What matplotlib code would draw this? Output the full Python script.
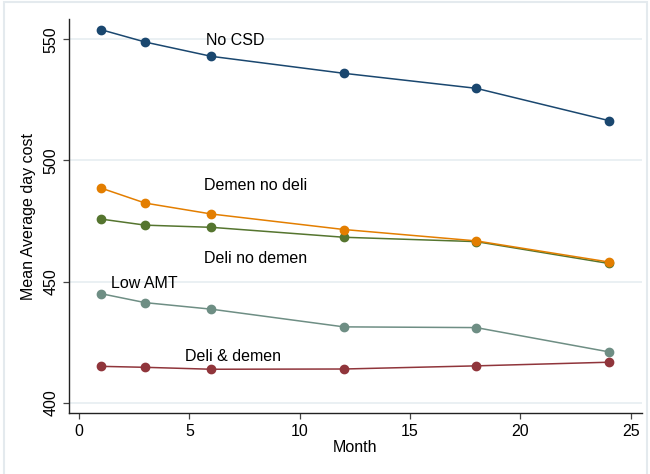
import matplotlib
matplotlib.use("Agg")
import matplotlib.pyplot as plt
from matplotlib.patches import Rectangle

plt.rcParams['font.family'] = ['Liberation Sans', 'DejaVu Sans']

months = [1, 3, 6, 12, 18, 24]
no_csd = [554.0, 548.9, 543.0, 536.0, 529.8, 516.5]
demen_no_deli = [488.6, 482.4, 477.9, 471.5, 466.8, 458.1]
deli_no_demen = [475.8, 473.3, 472.4, 468.3, 466.5, 457.5]
low_amt = [445.0, 441.3, 438.6, 431.3, 431.0, 421.0]
deli_demen = [415.0, 414.6, 413.8, 413.9, 415.2, 416.7]

# drawn in this order (orange ends up on top of green where they meet)
series = [
    (no_csd, '#1a476f'),
    (deli_no_demen, '#55752f'),
    (demen_no_deli, '#e37e00'),
    (low_amt, '#6e8e84'),
    (deli_demen, '#90353b'),
]

# label text and where it sits (month, value)
labels = [
    ('No CSD', 5.75, 549.6),
    ('Demen no deli', 5.65, 489.5),
    ('Deli no demen', 5.65, 459.5),
    ('Low AMT', 1.45, 449.3),
    ('Deli & demen', 4.8, 419.2),
]

fig = plt.figure(figsize=(6.5, 4.74), dpi=100)
fig.patch.set_facecolor('white')
fig.patches.append(Rectangle((0.006, -0.01), 0.99, 1.005, transform=fig.transFigure,
                             fill=False, edgecolor='#e4eaee', linewidth=1.5))
ax = fig.add_axes([0.1057, 0.128, 0.8815, 0.8313])

for vals, c in series:
    ax.plot(months, vals, color=c, linewidth=1.1, marker='o', markersize=6, zorder=3)

for txt, x, y in labels:
    ax.text(x, y, txt, fontsize=11.5, ha='left', va='center', color='black')

ax.set_xlim(-0.47, 25.5)
ax.set_ylim(395.6, 558.3)
ax.set_xticks([0, 5, 10, 15, 20, 25])
ax.set_yticks([400, 450, 500, 550])
ax.set_yticklabels(['400', '450', '500', '550'], rotation=90, va='center')
ax.grid(axis='y', color='#e6eef1', linewidth=1.2)
ax.set_axisbelow(True)
for s in ['top', 'right']:
    ax.spines[s].set_visible(False)
for s in ['left', 'bottom']:
    ax.spines[s].set_color('#222222')
    ax.spines[s].set_linewidth(1.0)
ax.tick_params(direction='out', length=4.5, width=0.9, color='#444444', labelsize=11.5, pad=3)
ax.set_xlabel('Month', fontsize=11.5, labelpad=1)
ax.set_ylabel('Mean Average day cost', fontsize=11.5, labelpad=5)

fig.savefig('out.png', dpi=100)
